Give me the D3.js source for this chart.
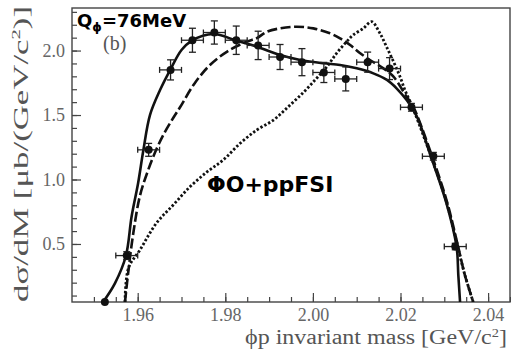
<!DOCTYPE html>
<html>
<head>
<meta charset="utf-8">
<script src="https://cdn.jsdelivr.net/npm/d3@7/dist/d3.min.js"></script>
<style>
    html, body { margin: 0; padding: 0; background: #fff; }
    svg { display: block; }
    .tick text { font-family: "Liberation Serif", "DejaVu Serif", serif; font-size: 18px; fill: #666; }
    .tick line { stroke: #444; stroke-width: 1.2; }
</style>
</head>
<body>
<svg id="chart" width="511" height="350"></svg>
<script>
// phi-p invariant mass spectrum, Q = 76 MeV, panel (b)

// measured points: bin centre [GeV/c^2], dσ/dM [µb/(GeV/c^2)], errors
var binMass = [1.9525, 1.9575, 1.9625, 1.9675, 1.9725, 1.9775, 1.9825, 1.9875, 1.9925,
               1.9975, 2.0025, 2.0075, 2.0125, 2.0175, 2.0225, 2.0275, 2.0325];
var binValue = [0.05, 0.41, 1.23, 1.85, 2.08, 2.14, 2.08, 2.04, 1.95,
                1.91, 1.83, 1.78, 1.91, 1.86, 1.56, 1.18, 0.48];
var binError = [0, 0.03, 0.05, 0.078, 0.093, 0.09, 0.11, 0.11, 0.097,
                0.105, 0.078, 0.093, 0.078, 0.085, 0.03, 0.03, 0.025];
var binHalfWidth = [0, 0.0025, 0.0025, 0.0025, 0.0025, 0.0025, 0.0025, 0.0025, 0.0025,
                    0.0025, 0.0025, 0.0025, 0.0025, 0.0025, 0.0025, 0.0025, 0.0025];

// full model (solid)
var solidCurve = [
    [1.9521, 0.05], [1.9548, 0.195], [1.9573, 0.407], [1.9586, 0.711], [1.9601, 0.973],
    [1.9613, 1.229], [1.9628, 1.50], [1.9651, 1.694], [1.9674, 1.849], [1.9700, 2.004],
    [1.9723, 2.076], [1.9773, 2.128], [1.9826, 2.076], [1.9872, 2.03], [1.9925, 1.965],
    [1.9971, 1.927], [2.0024, 1.901], [2.0062, 1.888], [2.0100, 1.862], [2.0138, 1.823],
    [2.0169, 1.772], [2.0191, 1.707], [2.0214, 1.616], [2.0229, 1.539], [2.0241, 1.461],
    [2.0267, 1.203], [2.0305, 0.815], [2.0328, 0.479], [2.0332, 0.259], [2.0336, 0.05]
];

// dashed model
var dashedCurve = [
    [1.9571, 0.05], [1.9579, 0.298], [1.9590, 0.585], [1.9605, 0.872], [1.9624, 1.074],
    [1.9644, 1.244], [1.9662, 1.368], [1.9681, 1.477], [1.9697, 1.562], [1.9729, 1.741],
    [1.9765, 1.888], [1.9806, 1.996], [1.9849, 2.069], [1.9872, 2.097], [1.9895, 2.146],
    [1.9925, 2.172], [1.9963, 2.185], [2.0001, 2.172], [2.0039, 2.134], [2.0062, 2.095],
    [2.0085, 2.043], [2.0108, 1.979], [2.0130, 1.927], [2.0161, 1.862], [2.0184, 1.797],
    [2.0214, 1.642], [2.0229, 1.565], [2.0267, 1.229], [2.0305, 0.841], [2.0328, 0.531],
    [2.0347, 0.259], [2.0366, 0.05]
];

// ΦO + ppFSI (dotted)
var dottedCurve = [
    [1.9571, 0.05], [1.9579, 0.314], [1.9605, 0.453], [1.9643, 0.663], [1.9681, 0.802],
    [1.9719, 0.942], [1.9758, 1.058], [1.9795, 1.151], [1.9834, 1.281], [1.9872, 1.384],
    [1.9910, 1.461], [1.9943, 1.562], [1.9977, 1.671], [2.0005, 1.772], [2.0032, 1.875],
    [2.0054, 1.979], [2.0077, 2.069], [2.0092, 2.121], [2.0115, 2.172], [2.0134, 2.224],
    [2.0153, 2.134], [2.0168, 2.030], [2.0184, 1.914], [2.0199, 1.797], [2.0210, 1.694],
    [2.0222, 1.603], [2.0233, 1.513], [2.0267, 1.205], [2.0305, 0.825], [2.0328, 0.515],
    [2.0347, 0.259], [2.0366, 0.05]
];

var xTickValues = [1.96, 1.98, 2.00, 2.02, 2.04];
var yTickValues = [0.5, 1.0, 1.5, 2.0];

(function () {
    var svg = d3.select('#chart');
    var pLeft = 72, pRight = 510, pTop = 8, pBottom = 302;

    var x = d3.scaleLinear().domain([1.945, 2.045]).range([pLeft, pRight]);
    var y = d3.scaleLinear().domain([0.05, 2.33]).range([pBottom, pTop]);

    svg.append('defs').append('clipPath').attr('id', 'plotClip')
        .append('rect')
        .attr('x', pLeft).attr('y', pTop)
        .attr('width', pRight - pLeft).attr('height', pBottom - pTop);

    function noDomain(g) { g.select('.domain').remove(); }

    // minor ticks
    svg.append('g')
        .attr('transform', 'translate(0,' + pBottom + ')')
        .call(d3.axisBottom(x).tickValues(d3.range(1.95, 2.0451, 0.005)).tickSize(-5).tickFormat(''))
        .call(noDomain);
    svg.append('g')
        .attr('transform', 'translate(' + pLeft + ',0)')
        .call(d3.axisLeft(y).tickValues(d3.range(0.1, 2.31, 0.1)).tickSize(-5).tickFormat(''))
        .call(noDomain);

    // major ticks + labels
    svg.append('g')
        .attr('transform', 'translate(0,' + pBottom + ')')
        .call(d3.axisBottom(x).tickValues(xTickValues).tickSize(-9).tickPadding(6)
            .tickFormat(d3.format('.2f')))
        .call(noDomain);
    svg.append('g')
        .attr('transform', 'translate(' + pLeft + ',0)')
        .call(d3.axisLeft(y).tickValues(yTickValues).tickSize(-9).tickPadding(7)
            .tickFormat(d3.format('.1f')))
        .call(noDomain);

    // frame
    svg.append('rect')
        .attr('x', pLeft).attr('y', pTop)
        .attr('width', pRight - pLeft).attr('height', pBottom - pTop)
        .attr('fill', 'none').attr('stroke', '#444').attr('stroke-width', 1.4);

    // curves
    var line = d3.line()
        .x(function (d) { return x(d[0]); })
        .y(function (d) { return y(d[1]); })
        .curve(d3.curveCatmullRom.alpha(0.5));

    var curves = svg.append('g').attr('clip-path', 'url(#plotClip)');
    curves.append('path').datum(dottedCurve)
        .attr('d', line).attr('fill', 'none')
        .attr('stroke', '#111').attr('stroke-width', 2.8)
        .attr('stroke-dasharray', '2.4,2');
    curves.append('path').datum(dashedCurve)
        .attr('d', line).attr('fill', 'none')
        .attr('stroke', '#111').attr('stroke-width', 2.6)
        .attr('stroke-dasharray', '10,3.5');
    curves.append('path').datum(solidCurve)
        .attr('d', line).attr('fill', 'none')
        .attr('stroke', '#111').attr('stroke-width', 2.6);

    // data points with error bars
    var pts = svg.append('g').selectAll('g')
        .data(binMass.map(function (m, i) {
            return { m: m, v: binValue[i], e: binError[i], hw: binHalfWidth[i] };
        }))
        .join('g');

    pts.filter(function (d) { return d.hw > 0; }).each(function (d) {
        var cx = x(d.m), cy = y(d.v);
        var x0 = x(d.m - d.hw), x1 = x(d.m + d.hw);
        var y0 = y(d.v - d.e), y1 = y(d.v + d.e);
        var segs = [
            [x0, cy, x1, cy], [x0, cy - 3, x0, cy + 3], [x1, cy - 3, x1, cy + 3],
            [cx, y0, cx, y1], [cx - 3.5, y0, cx + 3.5, y0], [cx - 3.5, y1, cx + 3.5, y1]
        ];
        d3.select(this).selectAll('line').data(segs).join('line')
            .attr('x1', function (s) { return s[0]; })
            .attr('y1', function (s) { return s[1]; })
            .attr('x2', function (s) { return s[2]; })
            .attr('y2', function (s) { return s[3]; })
            .attr('stroke', '#222').attr('stroke-width', 1.3);
    });

    pts.append('circle')
        .attr('cx', function (d) { return x(d.m); })
        .attr('cy', function (d) { return y(d.v); })
        .attr('r', 4)
        .attr('fill', '#111');

    // axis titles
    svg.append('text')
        .attr('x', 245).attr('y', 344)
        .attr('font-family', '"Liberation Serif", serif')
        .attr('font-size', 20).attr('fill', '#555')
        .attr('textLength', 262).attr('lengthAdjust', 'spacingAndGlyphs')
        .html('ϕp invariant mass [GeV/c<tspan dy="-7" font-size="12">2</tspan><tspan dy="7">]</tspan>');

    svg.append('text')
        .attr('transform', 'translate(28,302) rotate(-90)')
        .attr('font-family', '"Liberation Serif", serif')
        .attr('font-size', 22).attr('fill', '#555')
        .attr('textLength', 296).attr('lengthAdjust', 'spacingAndGlyphs')
        .html('dσ/dM [μb/(GeV/c<tspan dy="-8" font-size="13">2</tspan><tspan dy="8">)]</tspan>');

    // panel tag and annotations
    svg.append('text')
        .attr('x', 103).attr('y', 50)
        .attr('font-family', '"Liberation Serif", serif')
        .attr('font-size', 20).attr('fill', '#555')
        .text('(b)');

    svg.append('text')
        .attr('x', 77).attr('y', 27)
        .attr('font-family', '"DejaVu Sans", sans-serif')
        .attr('font-weight', 'bold').attr('font-size', 18).attr('fill', '#000')
        .html('Q<tspan dy="4" font-size="12">ϕ</tspan><tspan dy="-4">=76MeV</tspan>');

    svg.append('text')
        .attr('x', 207).attr('y', 192)
        .attr('font-family', '"DejaVu Sans", sans-serif')
        .attr('font-weight', 'bold').attr('font-size', 22).attr('fill', '#000')
        .text('ΦO+ppFSI');
})();
</script>
</body>
</html>
